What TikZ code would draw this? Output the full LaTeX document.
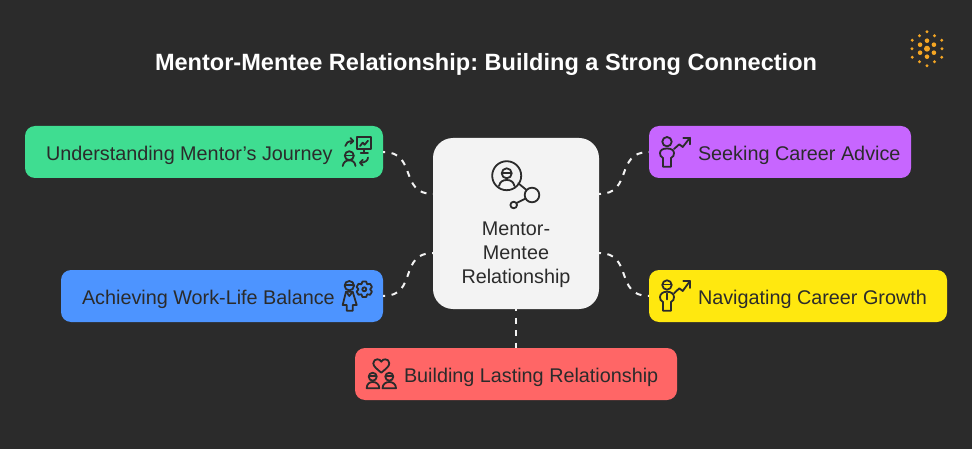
\documentclass[tikz,border=0pt]{standalone}
\usepackage{fontspec}
\setmainfont{Liberation Sans}
\frenchspacing
\definecolor{bgcol}{HTML}{2B2B2B}
\definecolor{inkcol}{HTML}{2B2B2B}
\definecolor{hubcol}{HTML}{F3F3F3}
\definecolor{greencol}{HTML}{3FDD91}
\definecolor{purplecol}{HTML}{C766FF}
\definecolor{yellowcol}{HTML}{FFE80F}
\definecolor{bluecol}{HTML}{4D94FF}
\definecolor{redcol}{HTML}{FF6666}
\definecolor{logocol}{HTML}{F5A623}
\tikzset{
  topic/.style={rounded corners=10pt, minimum height=52pt, inner xsep=0pt, align=flush left, text=inkcol, text height=18pt, text depth=1pt, font=\fontsize{19.8}{24}\selectfont},
  link/.style={draw=hubcol, line width=2pt, dash pattern=on 6pt off 6.5pt, dash phase=4pt, looseness=1.35},
  icon/.style={draw=inkcol, line width=1.8pt, line cap=round, line join=round},
  dot/.style={fill=logocol}
}
\begin{document}
\begin{tikzpicture}[x=1pt,y=-1pt]
\fill [bgcol] (0,0) rectangle (972,449);
\node [text=white, text height=19pt, text depth=1pt, font=\fontsize{23.55}{28}\selectfont\bfseries] (title) at (486,62) {Mentor-Mentee Relationship: Building a Strong Connection};

\node [fill=hubcol, rounded corners=20pt, minimum width=166pt, minimum height=171pt, inner sep=0pt, align=center, text=inkcol, font=\fontsize{19.8}{24}\selectfont] (hub) at (516,223.5) {\rule{0pt}{77pt}Mentor-\\Mentee\\Relationship};
\node [topic, fill=greencol, text width=358pt] (journey) at (204,152) {\hspace*{21pt}Understanding Mentor's Journey};
\node [topic, fill=bluecol, text width=322pt] (balance) at (222,296) {\hspace*{21pt}Achieving Work-Life Balance};
\node [topic, fill=purplecol, text width=262pt] (advice) at (780,152) {\hspace*{49pt}Seeking Career Advice};
\node [topic, fill=yellowcol, text width=298pt] (growth) at (798,296) {\hspace*{49pt}Navigating Career Growth};
\node [topic, fill=redcol, text width=322pt] (lasting) at (516,374) {\hspace*{49pt}Building Lasting Relationship};

\coordinate (hubnw) at (433,194);
\coordinate (hubsw) at (433,253);
\coordinate (hubne) at (599,194);
\coordinate (hubse) at (599,253);
\draw [link] (journey.east) to[out=0,in=180] (hubnw);
\draw [link] (balance.east) to[out=0,in=180] (hubsw);
\draw [link] (hubne) to[out=0,in=180] (advice.west);
\draw [link] (hubse) to[out=0,in=180] (growth.west);
\draw [link] (hub.south) -- (lasting.north);

% logo
\coordinate (logo) at (927,48.7);
\fill [dot] (logo) circle (3pt);
\foreach \a in {30,90,...,330} {
  \fill [dot] (logo) ++(\a:8) circle (2.3pt);
  \fill [dot] (logo) ++(\a:17) circle (1.6pt);
  \fill [dot] (logo) ++(\a+30:15) circle (1.6pt);
}

% hub icon
\draw [icon] (506.7,175.7) circle (14.5pt);
\draw [icon] (506.7,173.3) circle (5pt);
\draw [icon] (502,173.3) -- (511.4,173.3);
\draw [icon] (499,186) .. controls (500,181.5) and (503,180) .. (506.7,180) .. controls (510.4,180) and (513.5,181.5) .. (514.5,186);
\draw [icon] (518.3,183.3) -- (526.5,190);
\draw [icon] (532,195) circle (7.3pt);
\draw [icon] (516.7,203) -- (525.5,198.5);
\draw [icon] (513.7,205) circle (3.3pt);

% journey icon
\draw [icon] (356.7,137.3) rectangle (371.3,149.3);
\draw [icon] (364,149.3) -- (364,153);
\draw [icon] (360.7,153) -- (368,153);
\draw [icon] (360,146) -- (362.7,142.7) -- (364.7,144.7) -- (368,140.7);
\draw [icon] (345.3,146) .. controls (345.5,143) and (348,141) .. (353.3,141);
\draw [icon] (350.5,138) -- (353.3,141) -- (350.5,143.7);
\draw [icon] (349.3,155.7) circle (4.5pt);
\draw [icon] (345,155.5) -- (353.6,155.5);
\draw [icon] (342.7,166) .. controls (343.5,162) and (346,160.3) .. (349.3,160.3) .. controls (352.5,160.3) and (355,162) .. (355.5,166);
\draw [icon] (368,157.5) .. controls (368,160.5) and (365,162.7) .. (360,162.7);
\draw [icon] (362.7,159.8) -- (360,162.7) -- (362.7,165.5);

% balance icon
\draw [icon] (349.3,285.7) circle (4.7pt);
\draw [icon] (344.8,285) -- (353.8,285);
\draw [icon] (346,291.7) -- (352.7,291.7) -- (356.7,305) -- (352.7,305) -- (352.7,310.7) -- (346.7,310.7) -- (346.7,305) -- (342.7,305) -- cycle;
\draw [icon] (346.7,292.5) -- (349.3,296) -- (352,292.5);
\coordinate (gear) at (364.3,289.3);
\draw [icon] ([shift={(30-13:8)}]gear) \foreach \a in {30,90,...,330} {
  -- ([shift={(\a-13:8)}]gear) -- ([shift={(\a+13:8)}]gear) -- ([shift={(\a+30:5.8)}]gear)
} -- cycle;
\draw [icon] (gear) circle (2pt);

% advice icon
\draw [icon] (667,141.7) circle (4.7pt);
\draw [icon] (663,166.7) -- (671,166.7) -- (671,158) .. controls (673.5,157) and (674,155) .. (674,153) .. controls (674,150) and (671,148.5) .. (667,148.5) .. controls (663,148.5) and (660,150) .. (660,153) .. controls (660,155) and (660.5,157) .. (663,158) -- cycle;
\draw [icon] (674,149) -- (679.3,144.3) -- (682.7,147) -- (690,137.7);
\draw [icon] (683.3,137.7) -- (690,137.7) -- (690,144.3);

% growth icon
\draw [icon] (667,285) circle (4.7pt);
\draw [icon] (662.5,284.5) -- (671.5,284.5);
\draw [icon] (663,310.7) -- (671,310.7) -- (671,302) .. controls (673.5,301) and (674,299) .. (674,297) .. controls (674,294) and (671,291.7) .. (667,291.7) .. controls (663,291.7) and (660,294) .. (660,297) .. controls (660,299) and (660.5,301) .. (663,302) -- cycle;
\draw [icon] (667,293.5) -- (667,299.5);
\draw [icon] (674,293.3) -- (679.3,288.3) -- (682.7,291) -- (690,281);
\draw [icon] (683.3,281) -- (690,281) -- (690,288);

% lasting icon
\draw [icon] (381.3,372.7) .. controls (377,369) and (373.3,366.5) .. (373.3,363.3) .. controls (373.3,360.5) and (375.5,359.3) .. (377.3,359.3) .. controls (379,359.3) and (380.5,360) .. (381.3,361.7) .. controls (382.1,360) and (383.6,359.3) .. (385.3,359.3) .. controls (387.1,359.3) and (389.3,360.5) .. (389.3,363.3) .. controls (389.3,366.5) and (385.6,369) .. (381.3,372.7) -- cycle;
\draw [icon] (372.7,376.7) circle (4pt);
\draw [icon] (369,376.2) -- (376.4,376.2);
\draw [icon] (366.7,388.3) .. controls (366.7,384) and (369.5,382) .. (372.7,382) .. controls (376,382) and (379.3,384) .. (379.3,388.3) -- cycle;
\draw [icon] (389.3,376.7) circle (4pt);
\draw [icon] (385.6,376.2) -- (393,376.2);
\draw [icon] (382.5,388.3) .. controls (382.5,384) and (386,382) .. (389.3,382) .. controls (392.6,382) and (396,384) .. (396,388.3) -- cycle;
\end{tikzpicture}
\end{document}
